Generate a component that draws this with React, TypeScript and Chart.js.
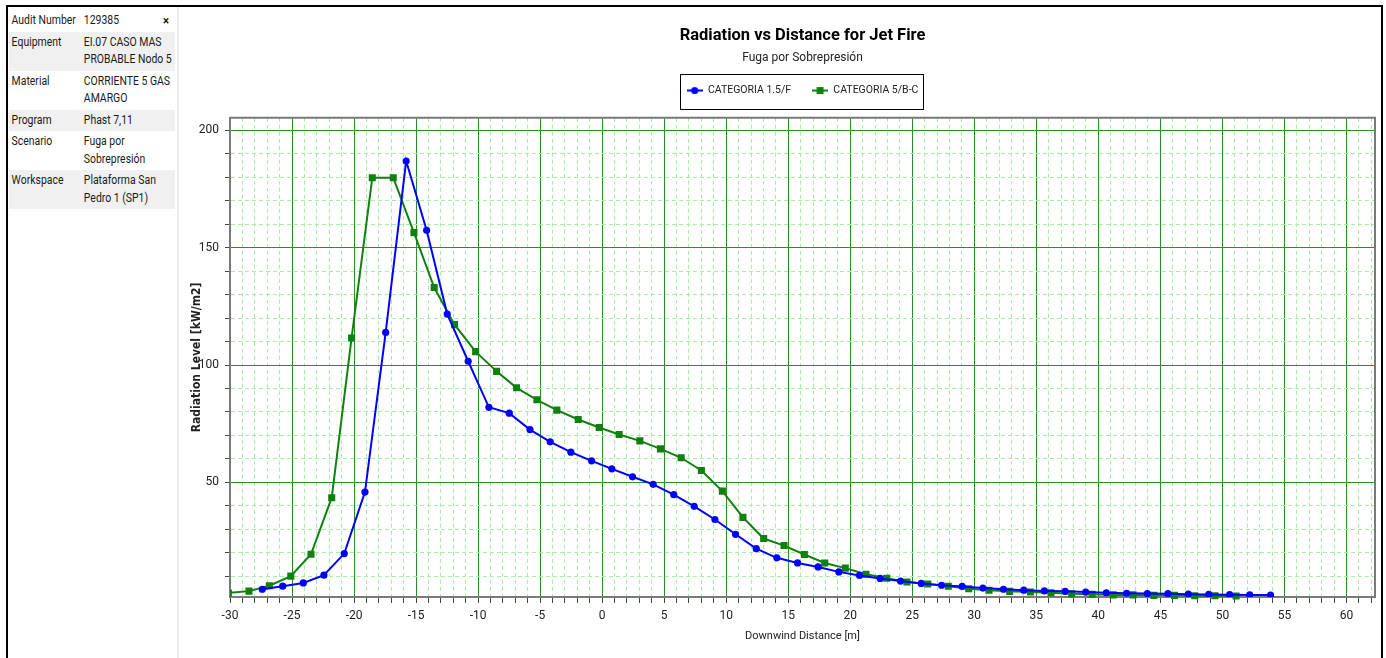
import React, { useEffect, useRef } from 'react';
import { Chart, registerables } from 'chart.js';

Chart.register(...registerables);

const FONT = "Roboto, 'Liberation Sans', sans-serif";
const WIDE_FONT = "'Liberation Sans Narrow', 'DejaVu Sans Condensed', 'Liberation Sans', sans-serif";

const chartTitle = 'Radiation vs Distance for Jet Fire';
const chartSubtitle = 'Fuga por Sobrepresión';
const xAxisTitle = 'Downwind Distance [m]';
const yAxisTitle = 'Radiation Level [kW/m2]';

const blueLabel = 'CATEGORIA 1.5/F';
const blueX = [-27.4, -25.75, -24.09, -22.43, -20.79, -19.12, -17.45, -15.8, -14.15, -12.49, -10.8, -9.13, -7.49, -5.82, -4.19, -2.52, -0.85, 0.78, 2.45, 4.11, 5.77, 7.42, 9.09, 10.75, 12.42, 14.08, 15.75, 17.41, 19.08, 20.75, 22.41, 24.05, 25.72, 27.36, 29.02, 30.69, 32.35, 33.99, 35.65, 37.32, 38.98, 40.64, 42.28, 43.95, 45.61, 47.25, 48.9, 50.58, 52.2, 53.88];
const blueY = [4.5, 5.8, 7.2, 10.5, 19.7, 45.9, 113.9, 186.9, 157.4, 121.7, 101.6, 82.0, 79.5, 72.5, 67.3, 62.9, 59.2, 55.8, 52.4, 49.2, 44.8, 39.8, 34.2, 27.9, 21.8, 17.9, 15.7, 14.0, 11.9, 10.4, 9.1, 8.0, 7.0, 6.2, 5.7, 5.0, 4.5, 4.1, 3.8, 3.6, 3.3, 3.0, 2.8, 2.7, 2.6, 2.4, 2.3, 2.2, 2.1, 2.0];

const greenLabel = 'CATEGORIA 5/B-C';
const greenX = [-30.13, -28.47, -26.83, -25.1, -23.47, -21.8, -20.2, -18.53, -16.84, -15.17, -13.54, -11.9, -10.2, -8.51, -6.9, -5.26, -3.65, -1.93, -0.24, 1.37, 3.04, 4.7, 6.37, 8.0, 9.69, 11.35, 13.02, 14.66, 16.3, 17.94, 19.6, 21.27, 22.94, 24.57, 26.25, 27.9, 29.55, 31.18, 32.85, 34.52, 36.18, 37.85, 39.5, 41.2, 42.8, 44.47, 46.14, 47.77, 49.4, 51.1];
const greenY = [2.9, 3.7, 6.0, 10.1, 19.4, 43.5, 111.5, 179.8, 179.8, 156.4, 133.0, 117.2, 105.7, 97.3, 90.3, 85.2, 80.8, 76.8, 73.4, 70.4, 67.7, 64.3, 60.5, 55.1, 46.3, 35.1, 26.1, 23.1, 19.3, 15.7, 13.5, 10.9, 9.2, 7.6, 6.7, 5.8, 4.7, 4.1, 3.6, 3.3, 3.0, 2.6, 2.4, 2.1, 2.1, 1.9, 1.9, 1.7, 1.7, 1.6];

const xMin = -30;
const xMax = 62.3;
const xStep = 1;
const xLabelEvery = 5;
const yMin = 1.2;
const yMax = 205.3;
const yStep = 10;
const yLabelEvery = 50;

const infoLabels = ['Audit Number', 'Equipment', 'Material', 'Program', 'Scenario', 'Workspace'];
const infoValues = [['129385'], ['EI.07 CASO MAS', 'PROBABLE Nodo 5'], ['CORRIENTE 5 GAS', 'AMARGO'], ['Phast 7,11'], ['Fuga por', 'Sobrepresión'], ['Plataforma San', 'Pedro 1 (SP1)']];

const BLUE = '#0000ff';
const GREEN = '#108010';
const MAJOR_GRID = '#2a8f2a';
const MINOR_GRID = '#a6eea6';
const AXIS_GRAY = '#7a7a7a';

function makeIcon(color: string, kind: 'circle' | 'square'): HTMLCanvasElement {
  const c = document.createElement('canvas');
  c.width = 16;
  c.height = 9;
  const g = c.getContext('2d')!;
  g.strokeStyle = color;
  g.lineWidth = 2;
  g.beginPath();
  g.moveTo(0, 4.5);
  g.lineTo(16, 4.5);
  g.stroke();
  g.fillStyle = color;
  if (kind === 'circle') {
    g.beginPath();
    g.arc(8, 4.5, 3.6, 0, Math.PI * 2);
    g.fill();
  } else {
    g.fillRect(4.5, 1, 7, 7);
  }
  return c;
}

const frameAndLegendBox = {
  id: 'frameAndLegendBox',
  afterDraw(chart: any) {
    const { ctx, chartArea } = chart;
    ctx.save();
    ctx.strokeStyle = AXIS_GRAY;
    ctx.lineWidth = 2;
    ctx.beginPath();
    ctx.moveTo(chartArea.left, chartArea.top);
    ctx.lineTo(chartArea.right, chartArea.top);
    ctx.lineTo(chartArea.right, chartArea.bottom);
    ctx.stroke();
    const lg = chart.legend;
    if (lg && lg.legendHitBoxes && lg.legendHitBoxes.length) {
      const hb = lg.legendHitBoxes;
      const left = Math.min(...hb.map((b: any) => b.left)) - 7;
      const right = Math.max(...hb.map((b: any) => b.left + b.width)) + 4;
      const cy = hb[0].top + hb[0].height / 2;
      ctx.strokeStyle = '#000';
      ctx.lineWidth = 1;
      ctx.strokeRect(Math.round(left) + 0.5, Math.round(cy - 17) + 0.5, Math.round(right - left), 35);
    }
    ctx.restore();
  },
};

export default function App() {
  const ref = useRef<HTMLCanvasElement>(null);

  useEffect(() => {
    const icons = [makeIcon(BLUE, 'circle'), makeIcon(GREEN, 'square')];
    const isMajorX = (v: number) => Math.abs(v % xLabelEvery) < 1e-9;
    const isMajorY = (v: number) => Math.abs(v % yLabelEvery) < 1e-9;

    const chart = new Chart(ref.current!, {
      type: 'line',
      data: {
        datasets: [
          {
            label: blueLabel,
            data: blueX.map((x, i) => ({ x, y: blueY[i] })),
            borderColor: BLUE,
            backgroundColor: BLUE,
            borderWidth: 2,
            pointRadius: 3.6,
            pointStyle: 'circle',
            pointBorderWidth: 0,
            tension: 0,
          },
          {
            label: greenLabel,
            data: greenX.map((x, i) => ({ x, y: greenY[i] })),
            borderColor: GREEN,
            backgroundColor: GREEN,
            borderWidth: 2,
            pointRadius: 5,
            pointStyle: 'rect',
            pointBorderWidth: 0,
            tension: 0,
            clip: { left: 0, top: 5, right: 5, bottom: 5 },
          },
        ],
      },
      plugins: [frameAndLegendBox],
      options: {
        responsive: false,
        animation: false,
        events: [],
        layout: { padding: { left: 0, right: 5, top: 0, bottom: 0 } },
        plugins: {
          title: {
            display: true,
            fullSize: false,
            text: chartTitle,
            color: '#000',
            font: { family: FONT, size: 16.5, weight: 'bold', lineHeight: 1.2 },
            padding: { top: 17.5, bottom: 5 },
          },
          subtitle: {
            display: true,
            fullSize: false,
            text: chartSubtitle,
            color: '#222',
            font: { family: FONT, size: 12, lineHeight: 1.0 },
            padding: { top: 2, bottom: 0 },
          },
          legend: {
            display: true,
            fullSize: false,
            position: 'top',
            labels: {
              usePointStyle: true,
              pointStyleWidth: 16,
              padding: 21,
              color: '#222',
              font: { family: FONT, size: 10.5 },
              generateLabels: (ch: any) =>
                ch.data.datasets.map((ds: any, i: number) => ({
                  text: ds.label,
                  pointStyle: icons[i],
                  fillStyle: ds.borderColor,
                  strokeStyle: ds.borderColor,
                  lineWidth: 0,
                  hidden: false,
                  datasetIndex: i,
                  fontColor: '#222',
                })),
            },
          },
          tooltip: { enabled: false },
        },
        scales: {
          x: {
            type: 'linear',
            min: xMin,
            max: xMax,
            afterFit: (s: any) => {
              s.height = 61;
            },
            ticks: {
              stepSize: xStep,
              includeBounds: false,
              autoSkip: false,
              maxRotation: 0,
              padding: 6,
              color: '#222',
              font: { family: FONT, size: 12 },
              callback: (v: any) => (isMajorX(Number(v)) ? String(v) : ''),
            },
            grid: {
              color: (c: any) => (c.tick && isMajorX(c.tick.value) ? MAJOR_GRID : MINOR_GRID),
              lineWidth: 1,
              tickLength: 6,
              tickColor: '#444',
              tickWidth: 1,
            },
            border: {
              display: true,
              color: AXIS_GRAY,
              width: 2,
              dash: (c: any) => (c.tick && isMajorX(c.tick.value) ? [] : [4, 3]),
            },
            title: {
              display: true,
              text: xAxisTitle,
              color: '#222',
              font: { family: FONT, size: 11 },
              padding: { top: 0, bottom: 15 },
            },
          },
          xTopSpacer: {
            type: 'linear',
            axis: 'x',
            position: 'top',
            display: true,
            afterFit: (s: any) => {
              s.height = 12;
            },
            grid: { display: false, drawTicks: false },
            ticks: { display: false },
            border: { display: false },
            title: { display: false },
          },
          y: {
            type: 'linear',
            min: yMin,
            max: yMax,
            afterFit: (s: any) => {
              s.width = 50;
            },
            ticks: {
              stepSize: yStep,
              includeBounds: false,
              autoSkip: false,
              padding: 6,
              color: '#222',
              font: { family: FONT, size: 12 },
              callback: (v: any) => (isMajorY(Number(v)) ? String(v) : ''),
            },
            grid: {
              color: (c: any) => (c.tick && isMajorY(c.tick.value) ? MAJOR_GRID : MINOR_GRID),
              lineWidth: 1,
              tickLength: 5,
              tickColor: '#444',
              tickWidth: 1,
            },
            border: {
              display: true,
              color: AXIS_GRAY,
              width: 2,
              dash: (c: any) => (c.tick && isMajorY(c.tick.value) ? [] : [4, 3]),
            },
            title: {
              display: true,
              text: yAxisTitle,
              color: '#222',
              font: { family: WIDE_FONT, size: 12, weight: 'bold' },
              padding: { top: 10, bottom: 0 },
            },
          },
        },
      },
    } as any);
    return () => chart.destroy();
  }, []);

  const rowBg = (i: number) => (i % 2 === 1 ? '#f0f0f0' : '#ffffff');
  const SX = 0.87;

  return (
    <div style={{ position: 'fixed', left: 0, top: 0, width: 1386, height: 658, overflow: 'hidden', background: '#fff', fontFamily: FONT }}>
      <div style={{ position: 'absolute', left: 6, top: 5, width: 1377, height: 700, borderTop: '2px solid #000', borderLeft: '2px solid #000', borderRight: '2px solid #000', boxSizing: 'border-box' }} />
      <div style={{ position: 'absolute', left: 177, top: 7, width: 2, height: 660, background: '#ececec' }} />
      <div style={{ position: 'absolute', left: 9, top: 10, width: 166 / SX, transform: `scaleX(${SX})`, transformOrigin: '0 0' }}>
        <table style={{ borderCollapse: 'collapse', tableLayout: 'fixed', width: 166 / SX, fontSize: 12, color: '#1a1a1a', fontFamily: FONT, lineHeight: '17.5px' }}>
          <colgroup>
            <col style={{ width: 83 }} />
            <col />
          </colgroup>
          <tbody>
            {infoLabels.map((lab, i) => (
              <tr key={lab} style={{ background: rowBg(i) }}>
                <td style={{ padding: '2px 0 2px 3px', verticalAlign: 'top', whiteSpace: 'nowrap' }}>{lab}</td>
                <td style={{ padding: '2px 0 2px 3px', verticalAlign: 'top', position: 'relative', whiteSpace: 'nowrap' }}>
                  {infoValues[i].map((line, j) => (
                    <div key={j}>{line}</div>
                  ))}
                  {i === 0 ? (
                    <span style={{ position: 'absolute', right: 7, top: 2, fontWeight: 'bold', fontSize: 13 }}>×</span>
                  ) : null}
                </td>
              </tr>
            ))}
          </tbody>
        </table>
      </div>
      <canvas ref={ref} width={1200} height={650} style={{ position: 'absolute', left: 180, top: 8, width: 1200, height: 650 }} />
    </div>
  );
}
